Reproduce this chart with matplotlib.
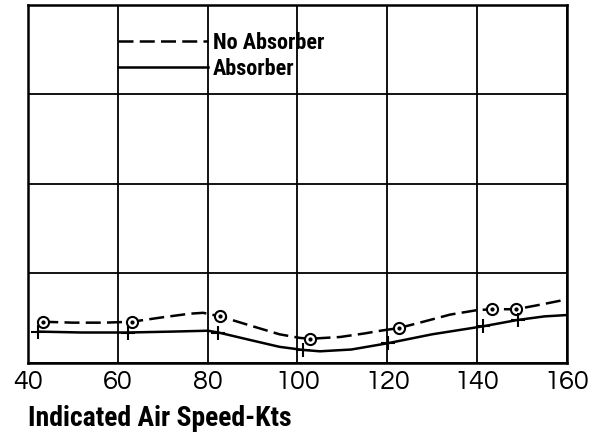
import matplotlib
matplotlib.use('Agg')
import matplotlib.pyplot as plt
from matplotlib.lines import Line2D

# no absorber (dashed, circle markers)
no_abs_x = [43.4, 50, 57, 63.1, 70, 76, 79, 82.8, 90, 96, 100.5, 102.8, 109.5, 115, 118.5, 122.6,
            128, 134, 140, 143.4, 148.7, 154, 160]
no_abs_y = [0.46, 0.45, 0.45, 0.46, 0.51, 0.55, 0.56, 0.52, 0.41, 0.32, 0.28, 0.27, 0.29, 0.33, 0.36, 0.39,
            0.46, 0.54, 0.59, 0.60, 0.60, 0.65, 0.71]
no_abs_marks_x = [43.4, 63.1, 82.8, 102.8, 122.6, 143.4, 148.7]
no_abs_marks_y = [0.46, 0.46, 0.52, 0.27, 0.39, 0.60, 0.60]

# absorber (solid, plus markers)
abs_x = [42.3, 52, 62.3, 72, 80, 82.4, 90, 96, 101.3, 105, 112, 120.1, 130, 141.4, 149, 155, 160]
abs_y = [0.35, 0.34, 0.34, 0.35, 0.36, 0.34, 0.25, 0.18, 0.145, 0.13, 0.15, 0.22, 0.32, 0.41, 0.48, 0.52, 0.535]
abs_marks_x = [42.3, 62.3, 82.4, 101.3, 120.1, 141.4, 149]
abs_marks_y = [0.35, 0.34, 0.34, 0.145, 0.22, 0.41, 0.48]

xticks = [40, 60, 80, 100, 120, 140, 160]
legend_labels = ['No Absorber', 'Absorber']
xlabel = 'Indicated Air Speed-Kts'

narrow = ['Roboto Condensed', 'DejaVu Sans']
gothic = ['Questrial', 'DejaVu Sans']

fig = plt.figure(figsize=(5.89, 4.41), dpi=100)
ax = fig.add_axes([0.0475, 0.177, 0.915, 0.812])

ax.plot(no_abs_x, no_abs_y, color='black', lw=1.8, dashes=(6, 2.5))
ax.plot(no_abs_marks_x, no_abs_marks_y, 'o', ms=8, mfc='white', mec='black', mew=1.5)
ax.plot(no_abs_marks_x, no_abs_marks_y, 'o', ms=2, color='black')

ax.plot(abs_x, abs_y, color='black', lw=1.8)
ax.plot(abs_marks_x, abs_marks_y, '+', ms=10, color='black', mew=1.5)

ax.set_xlim(40, 160)
ax.set_ylim(0, 4)
ax.set_xticks(xticks)
ax.set_yticks([0, 1, 2, 3, 4])
ax.set_yticklabels([])
ax.tick_params(length=0, pad=5)
for lbl in ax.get_xticklabels():
    lbl.set_family(gothic)
    lbl.set_fontsize(19.5)
ax.grid(True, color='black', lw=1.3)
for s in ax.spines.values():
    s.set_linewidth(1.8)

ax.set_xlabel(xlabel, family=narrow, fontweight='bold', fontsize=20, loc='left', labelpad=8)

handles = [Line2D([], [], color='black', lw=1.8, dashes=(6, 2.5)),
           Line2D([], [], color='black', lw=1.8)]
ax.legend(handles, legend_labels, loc='upper left', bbox_to_anchor=(0.167, 0.925),
          frameon=False, handlelength=4.05, handletextpad=0.22, labelspacing=0.19,
          borderpad=0, borderaxespad=0, prop={'family': narrow, 'weight': 'bold', 'size': 16})

fig.savefig('out.png', dpi=100)
